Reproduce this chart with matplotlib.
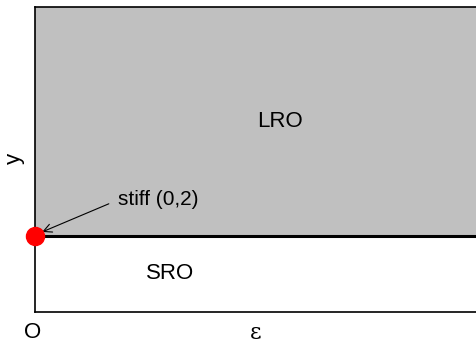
import numpy as np
import matplotlib.pyplot as plt

plt.rcParams['font.family'] = ['Liberation Sans', 'DejaVu Sans']

# phase boundary y = 2 over the epsilon range
eps = [0, 10]
y_line = [2, 2]
y_top = 8
stiff = (0, 2)

fig = plt.figure(figsize=(4.77, 3.43), dpi=100)
ax = fig.add_axes([35/477, (343-312)/343, 1.0, 305/343])

ax.fill_between(eps, y_line, y_top, color='#c0c0c0', zorder=1)
ax.plot(eps, y_line, color='black', lw=2.2, zorder=3)
ax.plot([stiff[0]], [stiff[1]], 'o', color='red', ms=13, clip_on=False, zorder=5)

ax.set_xlim(0, 10)
ax.set_ylim(0, y_top)
ax.set_xticks([])
ax.set_yticks([])
for s in ax.spines.values():
    s.set_linewidth(1.2)

ax.text(5.14, 5.0, 'LRO', fontsize=16, ha='center', va='center')
ax.text(2.83, 1.0, 'SRO', fontsize=16, ha='center', va='center')
ax.annotate('stiff (0,2)', xy=(0.15, 2.1), xytext=(1.74, 2.94),
            fontsize=15, ha='left', va='center',
            arrowprops=dict(arrowstyle='->', color='black', lw=0.8,
                            shrinkA=5, shrinkB=0, relpos=(0, 0.5)))

fig.text(33/477, 1 - 332/343, 'O', fontsize=16, ha='center', va='center')
fig.text(256/477, 1 - 333/343, 'ε', fontsize=16, ha='center', va='center',
         family='DejaVu Serif')
fig.text(14/477, 1 - 158/343, 'y', fontsize=16, ha='center', va='center',
         rotation=90)

fig.savefig('out.png', dpi=100)
